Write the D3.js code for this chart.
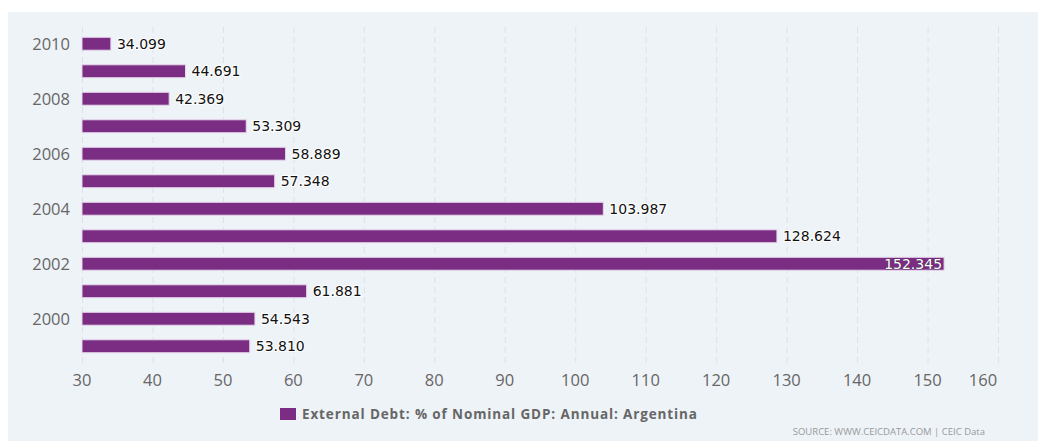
<!DOCTYPE html>
<html>
<head>
<meta charset="utf-8">
<script src="https://cdn.jsdelivr.net/npm/d3@7"></script>
<style>
  body { margin: 0; background: #ffffff; }
  svg { display: block; }
</style>
</head>
<body>
<svg id="draw" width="1038" height="441"></svg>
<script>
// data, top row first
let years = ["2010", "2009", "2008", "2007", "2006", "2005", "2004", "2003", "2002", "2001", "2000", "1999"];
let debt = [34.099, 44.691, 42.369, 53.309, 58.889, 57.348, 103.987, 128.624, 152.345, 61.881, 54.543, 53.810];
let xTicks = [30, 40, 50, 60, 70, 80, 90, 100, 110, 120, 130, 140, 150, 160];
let yLabelled = ["2010", "2008", "2006", "2004", "2002", "2000"];
let seriesName = "External Debt: % of Nominal GDP: Annual: Argentina";

let svg = d3.select("#draw");
let barColor = "#7b2d84";

// panel background
svg.append("rect")
    .attr("x", 8).attr("y", 12)
    .attr("width", 1030).attr("height", 429)
    .attr("fill", "#eef3f8");

let plotLeft = 82, plotRight = 998, plotTop = 30, plotBottom = 360;

let x = d3.scaleLinear().domain([30, 160]).range([plotLeft, plotRight]);
let y = d3.scaleBand().domain(years).range([plotTop, plotBottom]).paddingInner(0.53).paddingOuter(0.265);

// dashed grid lines
svg.append("g")
    .selectAll("line")
    .data(xTicks)
    .enter()
    .append("line")
    .attr("x1", d => x(d) + 0.5)
    .attr("x2", d => x(d) + 0.5)
    .attr("y1", 27)
    .attr("y2", 364)
    .attr("stroke", "#dde2e8")
    .attr("stroke-width", 1)
    .attr("stroke-dasharray", "6,4");

// x tick labels
svg.append("g")
    .selectAll("text")
    .data(xTicks)
    .enter()
    .append("text")
    .attr("x", (d, i) => i === xTicks.length - 1 ? x(d) - 15 : x(d))
    .attr("y", 386)
    .attr("text-anchor", "middle")
    .attr("font-family", "Open Sans")
    .attr("font-size", "16.5px")
    .attr("fill", "#666666")
    .text(d => d);

// y labels (every other year)
svg.append("g")
    .selectAll("text")
    .data(yLabelled)
    .enter()
    .append("text")
    .attr("x", 70)
    .attr("y", d => y(d) + y.bandwidth() / 2 + 6)
    .attr("text-anchor", "end")
    .attr("font-family", "Open Sans")
    .attr("font-size", "16.5px")
    .attr("fill", "#666666")
    .text(d => d);

// bars
svg.append("g")
    .selectAll("rect")
    .data(years)
    .enter()
    .append("rect")
    .attr("x", x(30))
    .attr("y", d => y(d))
    .attr("width", (d, i) => x(debt[i]) - x(30))
    .attr("height", y.bandwidth())
    .attr("fill", barColor)
    .attr("stroke", "#e6d6ea")
    .attr("stroke-width", 1);

// value labels
svg.append("g")
    .selectAll("text")
    .data(years)
    .enter()
    .append("text")
    .attr("font-family", "DejaVu Sans")
    .attr("font-size", "14px")
    .attr("y", d => y(d) + y.bandwidth() / 2 + 5)
    .each(function(d, i) {
        let t = d3.select(this);
        let v = debt[i].toFixed(3);
        if (debt[i] > 150) {
            t.attr("x", x(debt[i]) - 2)
             .attr("text-anchor", "end")
             .attr("fill", "#ffffff")
             .attr("stroke", "#333333")
             .attr("stroke-width", 0.6)
             .attr("paint-order", "stroke")
             .text(v);
        } else {
            t.attr("x", x(debt[i]) + 6)
             .attr("text-anchor", "start")
             .attr("fill", "#111111")
             .attr("stroke", "#ffffff")
             .attr("stroke-width", 2)
             .attr("paint-order", "stroke")
             .text(v);
        }
    });

// legend
svg.append("rect")
    .attr("x", 280).attr("y", 408)
    .attr("width", 16).attr("height", 12)
    .attr("fill", barColor);
svg.append("text")
    .attr("x", 302).attr("y", 419)
    .attr("font-family", "Open Sans")
    .attr("font-weight", "bold")
    .attr("font-size", "13.5px")
    .attr("fill", "#666666")
    .attr("textLength", 395)
    .text(seriesName);

// source
svg.append("text")
    .attr("x", 985).attr("y", 435)
    .attr("text-anchor", "end")
    .attr("font-family", "Open Sans")
    .attr("font-size", "9.5px")
    .attr("fill", "#999999")
    .text("SOURCE: WWW.CEICDATA.COM | CEIC Data");
</script>
</body>
</html>
